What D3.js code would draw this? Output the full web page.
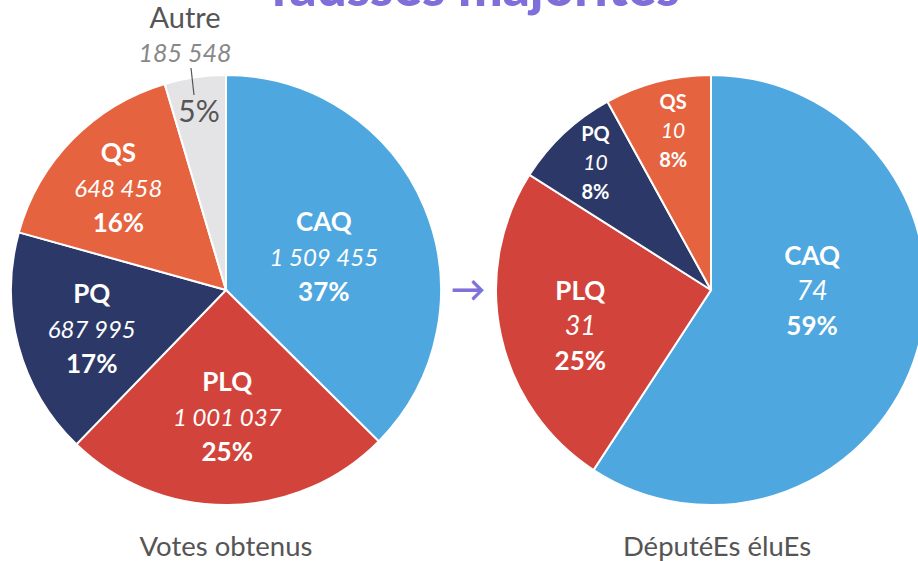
<!DOCTYPE html>
<html lang="fr">
<head>
    <meta charset="UTF-8">
    <title>Fausses majorités</title>
    <style>
        body{ margin:0; background:#fff; }
        svg{ display:block; }
        text{ font-family: Lato, "Noto Sans", sans-serif; }
    </style>
    <script src="https://cdn.jsdelivr.net/npm/d3@7"></script>
</head>
<body>
<script>
    // data
    const parties = ["CAQ", "PLQ", "PQ", "QS", "Autre"]
    const votes = [1509455, 1001037, 687995, 648458, 185548]
    const seatParties = ["CAQ", "PLQ", "PQ", "QS"]
    const seats = [74, 31, 10, 10]
    const chartTitle = "fausses majorités"
    const captions = ["Votes obtenus", "DéputéEs éluEs"]

    const width = 918
    const height = 561
    const colors = {CAQ:"#4fa7e0", PLQ:"#d2443b", PQ:"#2c3968", QS:"#e6633f", Autre:"#e4e4e6"}

    // label placement: fraction of radius + angle nudge (deg)
    const voteLabelPos = {CAQ:[0.48, 4], PLQ:[0.59, 0], PQ:[0.65, -1], QS:[0.69, -1]}
    const seatLabelPos = {CAQ:[0.47, -16], PLQ:[0.63, -3], PQ:[0.8, 1], QS:[0.76, 1]}

    const fmt = d3.formatLocale({decimal:",", thousands:" ", grouping:[3], currency:["","$"]}).format(",")

    let svg = d3.select("body").append("svg")
        .attr("width", width).attr("height", height)

    // title, cut by the top edge as in the source
    svg.append("text")
        .attr("x", 475).attr("y", 6)
        .attr("text-anchor", "middle")
        .attr("font-size", 53).attr("font-weight", 900)
        .attr("fill", "#7f6fd8")
        .text(chartTitle)

    const R = 215
    const pie = d3.pie().sort(null).value(d => d.v)
    const arc = d3.arc().innerRadius(0).outerRadius(R)

    function drawPie(cx, cy, names, vals, labelPos, big, valueFmt) {
        const total = d3.sum(vals)
        const rows = names.map((n, i) => ({name:n, v:vals[i]}))
        const g = svg.append("g").attr("transform", `translate(${cx},${cy})`)
        const arcs = pie(rows)
        g.selectAll("path").data(arcs).enter().append("path")
            .attr("d", arc)
            .attr("fill", d => colors[d.data.name])
            .attr("stroke", "#fff").attr("stroke-width", 2)

        arcs.forEach(d => {
            const p = labelPos[d.data.name]
            if (!p) return
            const a = (d.startAngle + d.endAngle) / 2 + p[1] * Math.PI / 180
            const x = Math.sin(a) * R * p[0]
            const y = -Math.cos(a) * R * p[0]
            const fs = (d.data.name === "CAQ" || d.data.name === "PLQ" || big) ? 26 : 20
            const gap = fs === 26 ? 35 : 29
            const t = g.append("g").attr("transform", `translate(${x},${y})`)
                .attr("fill", "#fff").attr("text-anchor", "middle")
            t.append("text").attr("y", -gap + fs * 0.36)
                .attr("font-size", fs).attr("font-weight", 700).text(d.data.name)
            t.append("text").attr("y", fs * 0.36)
                .attr("font-size", big ? fs - 2 : fs + 1).attr("font-style", "italic")
                .text(valueFmt(d.data.v))
            t.append("text").attr("y", gap + fs * 0.36)
                .attr("font-size", fs).attr("font-weight", 700)
                .text(Math.round(d.data.v / total * 100) + "%")
        })
        return {g, arcs, total}
    }

    // left: votes
    const left = drawPie(226, 290, parties, votes, voteLabelPos, true, fmt)
    const autre = left.arcs[4]
    left.g.append("text").attr("x", -27).attr("y", -168)
        .attr("text-anchor", "middle").attr("font-size", 30).attr("fill", "#555")
        .text(Math.round(autre.data.v / left.total * 100) + "%")
    left.g.append("line")
        .attr("x1", -35).attr("y1", -222).attr("x2", -32).attr("y2", -195)
        .attr("stroke", "#555").attr("stroke-width", 1.2)
    svg.append("text").attr("x", 185).attr("y", 62)
        .attr("text-anchor", "middle").attr("font-size", 25).attr("font-style", "italic")
        .attr("fill", "#888").text(fmt(autre.data.v))
    svg.append("text").attr("x", 185).attr("y", 28)
        .attr("text-anchor", "middle").attr("font-size", 29).attr("fill", "#555")
        .text("Autre")

    // right: seats
    drawPie(711, 290, seatParties, seats, seatLabelPos, false, d => d)

    svg.append("text").attr("x", 468).attr("y", 301)
        .attr("text-anchor", "middle").attr("font-size", 34)
        .attr("font-family", "DejaVu Sans")
        .attr("fill", "#7f6fd8").attr("stroke", "#7f6fd8").attr("stroke-width", 0.8)
        .text("→")

    svg.selectAll(".cap").data(captions).enter().append("text")
        .attr("x", (d, i) => i ? 717 : 226).attr("y", 556)
        .attr("text-anchor", "middle").attr("font-size", 27.5).attr("fill", "#555")
        .text(d => d)
</script>
</body>
</html>
